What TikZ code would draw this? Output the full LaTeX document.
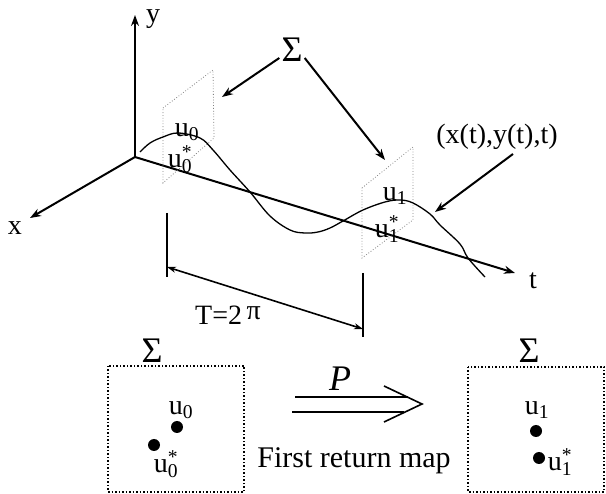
\documentclass[tikz,border=0pt]{standalone}
\usepackage{fontspec}
\setmainfont{Liberation Serif}
\usetikzlibrary{arrows.meta}
\begin{document}
\begin{tikzpicture}[x=1pt,y=-1pt,
  lbl/.style={inner sep=0pt, font=\fontsize{28}{30}\selectfont},
  axis/.style={line width=2pt, -{Stealth[length=11pt,width=8pt]}},
  pointer/.style={line width=2pt, -{Stealth[length=11pt,width=8pt]}},
  span/.style={line width=1.6pt, {Stealth[length=9pt,width=6pt]}-{Stealth[length=9pt,width=6pt]}},
  tick/.style={line width=1.5pt},
  plane/.style={gray, dotted, line width=0.8pt},
  box/.style={dotted, line width=1.5pt},
  dot/.style={circle, fill, inner sep=0pt, minimum size=12pt}]
\useasboundingbox (0,0) rectangle (606,494);
% axes
\coordinate (O) at (135,157);
\coordinate (Y) at (135,15);
\coordinate (X) at (30,218);
\coordinate (T) at (515,273);
\draw[axis] (O) -- (Y);
\draw[axis] (O) -- (X);
\draw[axis] (O) -- (T);
\node[lbl] (ylab) at (153,19) {y};
\node[lbl] (xlab) at (15,228) {x};
\node[lbl] (tlab) at (533,281) {t};
% sections
\draw[plane] (163,108) -- (213,70) -- (214,138) -- (163,183) -- cycle;
\draw[plane] (362,188) -- (413,147) -- (413,220) -- (362,258) -- cycle;
% trajectory
\draw[line width=1.3pt] plot[smooth, tension=0.6] coordinates {(140,152) (150,143) (163,137) (178,133) (200,138) (213,150) (230,170) (250,192) (270,216) (290,230) (305,233) (318,232) (330,228) (343,221) (363,210) (385,202) (400,200) (413,203) (430,214) (440,225) (460,244) (468,258) (485,277)};
% point labels on the sections
\node[lbl] (u0a) at (187,132) {u\textsubscript{0}};
\node[lbl] (u0b) at (180,159) {u\rlap{\textsuperscript{*}}\textsubscript{0}};
\node[lbl] (u1a) at (395,196) {u\textsubscript{1}};
\node[lbl] (u1b) at (387,229) {u\rlap{\textsuperscript{*}}\textsubscript{1}};
% Sigma pointer
\node[lbl, font=\fontsize{36}{38}\selectfont] (sig) at (292,50) {Σ};
\coordinate (p1) at (222,97);
\coordinate (p2) at (385,160);
\draw[pointer] (sig.south west) ++(-2,-4) -- (p1);
\draw[pointer] (sig.south east) ++(2,-4) -- (p2);
% trajectory label
\node[lbl] (traj) at (497,137) {(x(t),y(t),t)};
\coordinate (p3) at (435,212);
\draw[pointer] (513,154) -- (p3);
% period
\coordinate (a1) at (167,213);
\coordinate (a2) at (167,277);
\coordinate (b1) at (363,273);
\coordinate (b2) at (363,337);
\draw[tick] (a1) -- (a2);
\draw[tick] (b1) -- (b2);
\coordinate (s1) at (167,267);
\coordinate (s2) at (363,329);
\draw[span] (s1) -- (s2);
\node[lbl] (per) at (228,315) {T=2\,\raisebox{5pt}{π}};
% bottom: Poincare sections
\node[lbl, font=\fontsize{36}{38}\selectfont] (sigL) at (152,351) {Σ};
\node[lbl, font=\fontsize{36}{38}\selectfont] (sigR) at (529,351) {Σ};
\draw[box] (108,366) rectangle (244,492);
\draw[box] (468,367) rectangle (604,492);
\node[dot] (d0) at (177,427) {};
\node[lbl] (l0) at (181,410) {u\textsubscript{0}};
\node[dot] (d0s) at (154,445) {};
\node[lbl] (l0s) at (166,464) {u\rlap{\textsuperscript{*}}\textsubscript{0}};
\node[dot] (d1) at (536,431) {};
\node[lbl] (l1) at (537,410) {u\textsubscript{1}};
\node[dot] (d1s) at (539,458) {};
\node[lbl] (l1s) at (560,462) {u\rlap{\textsuperscript{*}}\textsubscript{1}};
% map arrow
\coordinate (m1) at (295,397);
\coordinate (m2) at (408,397);
\coordinate (n1) at (292,412);
\coordinate (n2) at (404,412);
\coordinate (c1) at (384,386);
\coordinate (c2) at (422,404);
\coordinate (c3) at (384,422);
\draw[line width=1.6pt] (m1) -- (m2);
\draw[line width=1.6pt] (n1) -- (n2);
\draw[line width=1.6pt] (c1) -- (c2) -- (c3);
\node[lbl, font=\fontsize{36}{38}\selectfont\itshape] (P) at (340,379) {P};
\node[lbl, font=\fontsize{30}{32}\selectfont] (frm) at (354,461) {First return map};
\end{tikzpicture}
\end{document}
